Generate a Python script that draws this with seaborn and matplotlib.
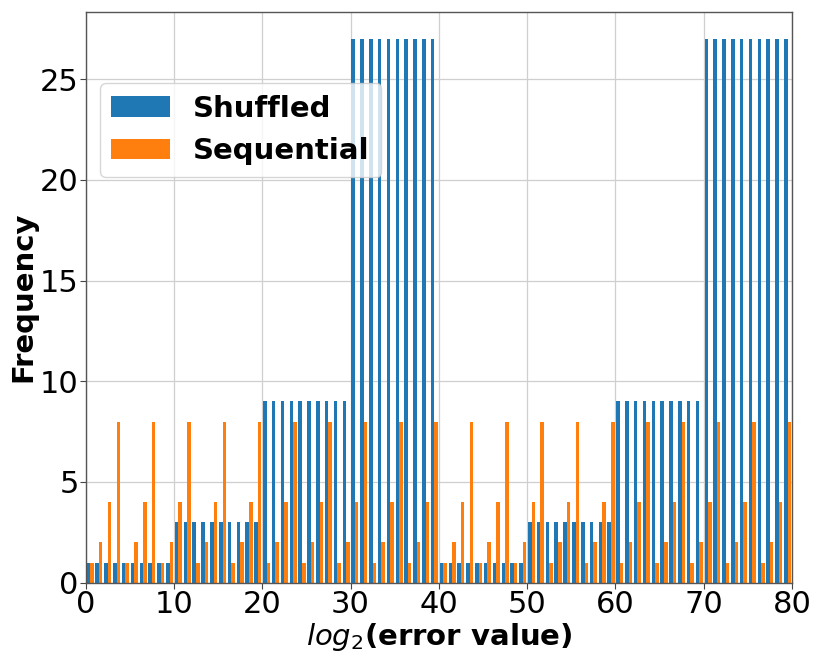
import numpy as np
import pandas as pd
import matplotlib
matplotlib.use("Agg")
import matplotlib.pyplot as plt
import seaborn as sns

# ---- data ----
bin_left = list(range(80))  # log2(error value) bins, width 1
shuffled_counts = ([1] * 10 + [3] * 10 + [9] * 10 + [27] * 10) * 2
sequential_counts = [1, 2, 4, 8] * 20
series_names = ["Shuffled", "Sequential"]
series_colors = ["#1f77b4", "#ff7f0e"]
y_ticks = [0, 5, 10, 15, 20, 25]
x_ticks = [0, 10, 20, 30, 40, 50, 60, 70, 80]

centers = np.array(bin_left) + 0.5
df = pd.DataFrame({
    "x": np.concatenate([centers, centers]),
    "count": np.concatenate([shuffled_counts, sequential_counts]),
    "series": [series_names[0]] * 80 + [series_names[1]] * 80,
})

plt.rcParams["font.family"] = ["DejaVu Sans"]
fig = plt.figure(figsize=(8.22, 6.61), dpi=100)
ax = fig.add_axes([0.1042, 0.1185, 0.9635 - 0.1042, 0.9823 - 0.1185])
ax.set_axisbelow(True)
ax.grid(True, color="#cfcfcf", linewidth=0.9)

sns.histplot(
    data=df, x="x", weights="count", hue="series",
    hue_order=series_names, palette=dict(zip(series_names, series_colors)),
    bins=80, binrange=(0, 80), multiple="dodge", shrink=0.8,
    alpha=1, edgecolor="none", linewidth=0, ax=ax,
)

ax.set_xlim(0, 80)
ax.set_xticks(x_ticks)
ax.set_yticks(y_ticks)
ax.tick_params(labelsize=22, length=4, pad=1, color="#444444")
for s in ax.spines.values():
    s.set_color("#555555")
    s.set_linewidth(1.0)

ax.set_xlabel(r"$log_2$(error value)", fontsize=21, fontweight="bold", labelpad=2)
ax.set_ylabel("Frequency", fontsize=21, fontweight="bold", labelpad=2)

sns.move_legend(
    ax, "upper left", bbox_to_anchor=(0.02, 0.875), borderaxespad=0,
    title=None, prop={"weight": "bold", "size": 21}, frameon=True,
    framealpha=0.8,
)

fig.savefig("out.png", dpi=100)
